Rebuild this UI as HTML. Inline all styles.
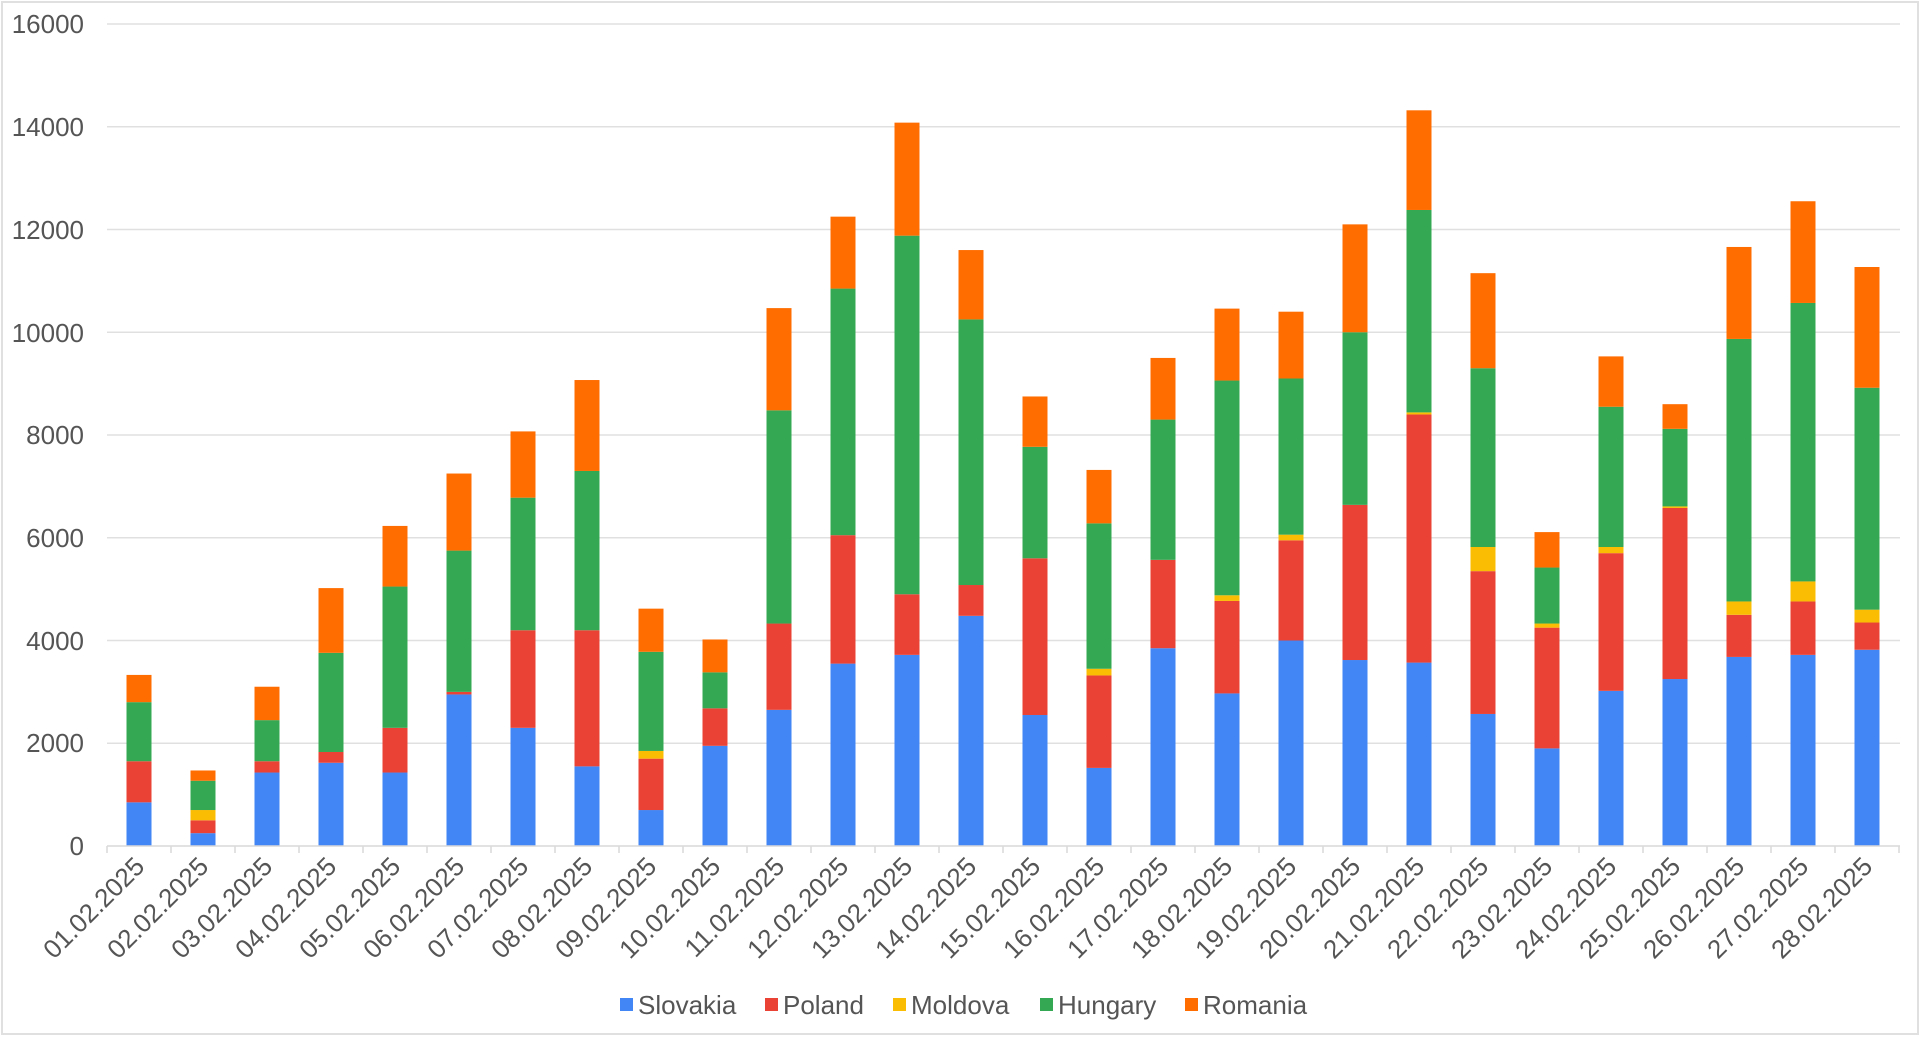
<!DOCTYPE html>
<html><head><meta charset="utf-8"><style>
html,body{margin:0;padding:0;background:#fff;}
svg{display:block;font-family:"Liberation Sans",Arial,sans-serif;}
</style></head><body>
<svg id="c" width="1920" height="1037" xmlns="http://www.w3.org/2000/svg">
<rect x="2" y="2" width="1916" height="1032" fill="#fff" stroke="#e0e0e0" stroke-width="2"/>
<g stroke="#e0e0e0" stroke-width="1.5">
<line x1="107" x2="1900" y1="24" y2="24"/><line x1="107" x2="1900" y1="126.75" y2="126.75"/>
<line x1="107" x2="1900" y1="229.5" y2="229.5"/><line x1="107" x2="1900" y1="332.25" y2="332.25"/>
<line x1="107" x2="1900" y1="435" y2="435"/><line x1="107" x2="1900" y1="537.75" y2="537.75"/>
<line x1="107" x2="1900" y1="640.5" y2="640.5"/><line x1="107" x2="1900" y1="743.25" y2="743.25"/>
</g>
<g fill="#555" font-size="26" text-anchor="end">
<text x="84" y="33">16000</text><text x="84" y="136">14000</text><text x="84" y="239">12000</text>
<text x="84" y="342">10000</text><text x="84" y="444">8000</text><text x="84" y="547">6000</text>
<text x="84" y="650">4000</text><text x="84" y="752">2000</text><text x="84" y="855">0</text>
</g>
<g id="bars"></g>
<g id="ticks" stroke="#d9d9d9" stroke-width="1.5"></g>
<g fill="#555" font-size="26" text-anchor="end">
<text transform="translate(146,868) rotate(-45)">01.02.2025</text>
<text transform="translate(210,868) rotate(-45)">02.02.2025</text>
<text transform="translate(274,868) rotate(-45)">03.02.2025</text>
<text transform="translate(338,868) rotate(-45)">04.02.2025</text>
<text transform="translate(402,868) rotate(-45)">05.02.2025</text>
<text transform="translate(466,868) rotate(-45)">06.02.2025</text>
<text transform="translate(530,868) rotate(-45)">07.02.2025</text>
<text transform="translate(594,868) rotate(-45)">08.02.2025</text>
<text transform="translate(658,868) rotate(-45)">09.02.2025</text>
<text transform="translate(722,868) rotate(-45)">10.02.2025</text>
<text transform="translate(786,868) rotate(-45)">11.02.2025</text>
<text transform="translate(850,868) rotate(-45)">12.02.2025</text>
<text transform="translate(914,868) rotate(-45)">13.02.2025</text>
<text transform="translate(978,868) rotate(-45)">14.02.2025</text>
<text transform="translate(1042,868) rotate(-45)">15.02.2025</text>
<text transform="translate(1106,868) rotate(-45)">16.02.2025</text>
<text transform="translate(1170,868) rotate(-45)">17.02.2025</text>
<text transform="translate(1234,868) rotate(-45)">18.02.2025</text>
<text transform="translate(1298,868) rotate(-45)">19.02.2025</text>
<text transform="translate(1362,868) rotate(-45)">20.02.2025</text>
<text transform="translate(1426,868) rotate(-45)">21.02.2025</text>
<text transform="translate(1490,868) rotate(-45)">22.02.2025</text>
<text transform="translate(1554,868) rotate(-45)">23.02.2025</text>
<text transform="translate(1618,868) rotate(-45)">24.02.2025</text>
<text transform="translate(1682,868) rotate(-45)">25.02.2025</text>
<text transform="translate(1746,868) rotate(-45)">26.02.2025</text>
<text transform="translate(1810,868) rotate(-45)">27.02.2025</text>
<text transform="translate(1874,868) rotate(-45)">28.02.2025</text>
</g>
<g font-size="26" fill="#555">
<rect x="620" y="998" width="13" height="13" fill="#4285f4"/><text x="638" y="1014">Slovakia</text>
<rect x="765" y="998" width="13" height="13" fill="#ea4335"/><text x="783" y="1014">Poland</text>
<rect x="893" y="998" width="13" height="13" fill="#fbbc04"/><text x="911" y="1014">Moldova</text>
<rect x="1040" y="998" width="13" height="13" fill="#34a853"/><text x="1058" y="1014">Hungary</text>
<rect x="1185" y="998" width="13" height="13" fill="#ff6d01"/><text x="1203" y="1014">Romania</text>
</g>
</svg>
<script>
var d=[[850,1650,1650,2800,3330],[250,500,700,1270,1470],[1430,1650,1650,2450,3100],[1620,1830,1830,3760,5020],[1430,2300,2300,5050,6230],[2950,3000,3000,5750,7250],[2300,4200,4200,6780,8070],[1550,4200,4200,7300,9070],[700,1700,1850,3780,4620],[1950,2680,2680,3380,4020],[2650,4330,4330,8480,10470],[3550,6050,6050,10850,12250],[3720,4900,4900,11880,14080],[4480,5080,5080,10250,11600],[2550,5600,5600,7770,8750],[1520,3320,3450,6280,7320],[3850,5570,5570,8300,9500],[2970,4770,4880,9060,10460],[4000,5950,6060,9100,10400],[3620,6640,6640,10000,12100],[3570,8400,8440,12380,14320],[2570,5350,5820,9300,11150],[1900,4250,4330,5420,6110],[3020,5700,5820,8550,9530],[3250,6580,6610,8120,8600],[3680,4500,4760,9870,11660],[3720,4760,5150,10570,12550],[3820,4350,4600,8920,11270]];
var col=["#4285f4","#ea4335","#fbbc04","#34a853","#ff6d01"];
var ns="http://www.w3.org/2000/svg",g=document.getElementById("bars"),t=document.getElementById("ticks");
function Y(v){return 846-v*0.051375;}
for(var i=0;i<28;i++){var cx=107+64*(i+0.5),prev=0;
for(var k=0;k<5;k++){var v=d[i][k];if(v>prev){var r=document.createElementNS(ns,"rect");
r.setAttribute("x",cx-12.5);r.setAttribute("width",25);r.setAttribute("y",Y(v));r.setAttribute("height",Y(prev)-Y(v));r.setAttribute("fill",col[k]);g.appendChild(r);}prev=v;}}
for(var i=0;i<=28;i++){var l=document.createElementNS(ns,"line");var x=107+64*i;l.setAttribute("x1",x);l.setAttribute("x2",x);l.setAttribute("y1",846);l.setAttribute("y2",853);t.appendChild(l);}
var b=document.createElementNS(ns,"line");b.setAttribute("x1",107);b.setAttribute("x2",1900);b.setAttribute("y1",846);b.setAttribute("y2",846);t.appendChild(b);
</script>
</body></html>
